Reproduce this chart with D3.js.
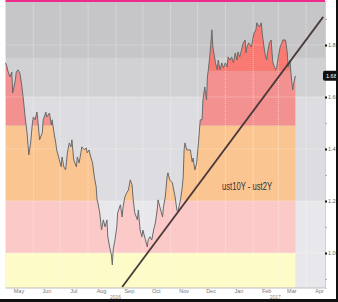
<!DOCTYPE html>
<html>
<head>
<meta charset="utf-8">
<script src="https://cdn.jsdelivr.net/npm/d3@7"></script>
<style>
  body { margin: 0; background: #fff; }
  svg { display: block; }
</style>
</head>
<body>
<svg id="chart" width="338" height="302"></svg>
<script>
// spread series
var dates = [
  "2016-05-01","2016-05-02","2016-05-04","2016-05-06","2016-05-08","2016-05-09","2016-05-12","2016-05-13",
  "2016-05-15","2016-05-17","2016-05-19","2016-05-21","2016-05-23","2016-05-25","2016-05-27","2016-05-29",
  "2016-05-31","2016-06-01","2016-06-03","2016-06-05","2016-06-06","2016-06-08","2016-06-11","2016-06-12",
  "2016-06-15","2016-06-16","2016-06-19","2016-06-21","2016-06-22","2016-06-24","2016-06-26","2016-06-27",
  "2016-06-30","2016-07-02","2016-07-03","2016-07-05","2016-07-07","2016-07-09","2016-07-11","2016-07-13",
  "2016-07-14","2016-07-16","2016-07-19","2016-07-20","2016-07-22","2016-07-24","2016-07-25","2016-07-28",
  "2016-07-30","2016-07-31","2016-08-02","2016-08-04","2016-08-06","2016-08-08","2016-08-10","2016-08-11",
  "2016-08-12","2016-08-14","2016-08-16","2016-08-18","2016-08-20","2016-08-22","2016-08-23","2016-08-25",
  "2016-08-27","2016-08-28","2016-08-29","2016-08-31","2016-09-02","2016-09-03","2016-09-06","2016-09-08",
  "2016-09-09","2016-09-11","2016-09-13","2016-09-15","2016-09-17","2016-09-19","2016-09-20","2016-09-22",
  "2016-09-25","2016-09-26","2016-09-28","2016-09-30","2016-10-01","2016-10-04","2016-10-06","2016-10-07",
  "2016-10-09","2016-10-11","2016-10-13","2016-10-15","2016-10-17","2016-10-18","2016-10-20","2016-10-23",
  "2016-10-24","2016-10-26","2016-10-28","2016-10-29","2016-10-31","2016-11-03","2016-11-04","2016-11-06",
  "2016-11-08","2016-11-09","2016-11-12","2016-11-14","2016-11-15","2016-11-16","2016-11-17","2016-11-19",
  "2016-11-23","2016-11-25","2016-11-26","2016-11-28","2016-11-30","2016-12-02","2016-12-04","2016-12-06",
  "2016-12-07","2016-12-09","2016-12-11","2016-12-12","2016-12-13","2016-12-15","2016-12-17","2016-12-18",
  "2016-12-21","2016-12-23","2016-12-24","2016-12-26","2016-12-28","2016-12-30","2017-01-01","2017-01-03",
  "2017-01-04","2017-01-06","2017-01-08","2017-01-10","2017-01-12","2017-01-14","2017-01-15","2017-01-17",
  "2017-01-19","2017-01-21","2017-01-23","2017-01-24","2017-01-25","2017-01-27","2017-01-30","2017-02-01",
  "2017-02-02","2017-02-04","2017-02-05","2017-02-08","2017-02-10","2017-02-11","2017-02-12","2017-02-14",
  "2017-02-16","2017-02-17","2017-02-19","2017-02-21","2017-02-22","2017-02-23","2017-02-26","2017-02-27",
  "2017-03-01","2017-03-03","2017-03-05","2017-03-06","2017-03-09","2017-03-11","2017-03-12","2017-03-14",
  "2017-03-15","2017-03-17","2017-03-18","2017-03-20"
];
var values = [
  1.731,1.723,1.696,1.677,1.696,1.615,1.665,1.696,
  1.704,1.692,1.646,1.588,1.519,1.462,1.377,1.423,
  1.500,1.523,1.512,1.542,1.512,1.435,1.462,1.512,
  1.542,1.523,1.538,1.492,1.512,1.462,1.423,1.396,
  1.358,1.331,1.369,1.331,1.319,1.385,1.423,1.408,
  1.435,1.358,1.331,1.369,1.346,1.385,1.408,1.396,
  1.404,1.385,1.396,1.369,1.346,1.292,1.254,1.204,
  1.192,1.154,1.088,1.127,1.100,1.127,1.062,1.023,
  0.992,0.954,1.012,1.050,1.100,1.154,1.185,1.138,
  1.177,1.215,1.231,1.242,1.281,1.262,1.215,1.154,
  1.127,1.165,1.088,1.062,1.088,1.050,1.023,1.050,
  1.062,1.050,1.088,1.115,1.165,1.204,1.177,1.138,
  1.177,1.215,1.292,1.308,1.281,1.269,1.250,1.215,
  1.165,1.158,1.204,1.254,1.292,1.396,1.423,1.396,
  1.396,1.350,1.365,1.319,1.346,1.423,1.512,1.512,
  1.588,1.638,1.588,1.677,1.704,1.769,1.858,1.792,
  1.731,1.704,1.742,1.704,1.731,1.712,1.731,1.715,
  1.754,1.742,1.754,1.731,1.769,1.742,1.773,1.754,
  1.781,1.808,1.819,1.769,1.792,1.808,1.792,1.831,
  1.846,1.858,1.885,1.869,1.885,1.846,1.819,1.769,
  1.742,1.769,1.808,1.819,1.769,1.731,1.704,1.712,
  1.754,1.792,1.808,1.819,1.819,1.769,1.715,1.742,
  1.692,1.627,1.650,1.681
];

var xDomain = ["2016-05-01", "2017-04-22"];
var yDomain = [0.865, 1.969];
var yTicks = [1.0, 1.2, 1.4, 1.6, 1.8];
var yMinorTicks = [0.9, 1.1, 1.3, 1.5, 1.7, 1.9];
var monthLabels = ["May","Jun","Jul","Aug","Sep","Oct","Nov","Dec","Jan","Feb","Mar","Apr"];
var yearLabels = ["2016", "2017"];
var yearStarts = ["2016-05-01", "2017-01-01"];

// colour bands under the line, lower bound of each band
var bandFrom = [0.0, 1.0, 1.2, 1.49, 1.70];
var bandColors = ["#fdfbc7", "#fcc9c9", "#fbc592", "#f39090", "#f87a72"];
// backdrop above the line
var backFrom = [0.0, 1.2, 1.6, 1.75];
var backColors = ["#e8e8ec", "#dddde1", "#d1d1d4", "#c6c6c8"];

var trendDates = ["2016-09-08", "2017-04-20"];
var trendValues = [0.869, 1.908];
var seriesLabel = "ust10Y - ust2Y";

var parse = d3.timeParse("%Y-%m-%d");
var svg = d3.select("#chart");
var plotL = 5.5, plotR = 325, plotT = 1, plotB = 288;
var font = "'Liberation Sans', Arial, sans-serif";

var data = dates.map(function(d, i) { return { date: parse(d), value: values[i] }; });

var x = d3.scaleTime().domain(xDomain.map(parse)).range([plotL, plotR]);
var y = d3.scaleLinear().domain(yDomain).range([plotB, plotT]);

function bandRects(g, from, colors) {
  g.selectAll("rect")
    .data(from)
    .enter()
    .append("rect")
    .attr("x", plotL)
    .attr("width", plotR - plotL)
    .attr("y", function(d, i) {
      return i === from.length - 1 ? plotT : y(from[i + 1]);
    })
    .attr("height", function(d, i) {
      var t = i === from.length - 1 ? plotT : y(from[i + 1]);
      return Math.min(plotB, y(Math.max(d, yDomain[0]))) - t;
    })
    .attr("fill", function(d, i) { return colors[i]; });
}

bandRects(svg.append("g"), backFrom, backColors);

var area = d3.area()
  .x(function(d) { return x(d.date); })
  .y0(plotB)
  .y1(function(d) { return y(d.value); });

svg.append("clipPath")
  .attr("id", "under")
  .append("path")
  .attr("d", area(data));

bandRects(svg.append("g").attr("clip-path", "url(#under)"), bandFrom, bandColors);

// grid
var months = d3.timeMonth.range(d3.timeMonth.offset(x.domain()[0], 1), x.domain()[1]);
svg.append("g")
  .selectAll("line")
  .data(months)
  .enter()
  .append("line")
  .attr("x1", function(d) { return x(d); })
  .attr("x2", function(d) { return x(d); })
  .attr("y1", plotT)
  .attr("y2", plotB + 5)
  .attr("stroke", "#ffffff")
  .attr("stroke-opacity", 0.5)
  .attr("stroke-dasharray", "1,1");
svg.append("g")
  .selectAll("line")
  .data(yTicks)
  .enter()
  .append("line")
  .attr("x1", plotL)
  .attr("x2", plotR)
  .attr("y1", function(d) { return y(d); })
  .attr("y2", function(d) { return y(d); })
  .attr("stroke", "#ffffff")
  .attr("stroke-opacity", 0.45)
  .attr("stroke-dasharray", "1,1");

// series line
svg.append("path")
  .datum(data)
  .attr("fill", "none")
  .attr("stroke", "#6a6a6a")
  .attr("stroke-width", 1)
  .attr("d", d3.line()
    .x(function(d) { return x(d.date); })
    .y(function(d) { return y(d.value); }));

// trend line
var trend = trendDates.map(function(d, i) { return { date: parse(d), value: trendValues[i] }; });
svg.append("path")
  .datum(trend)
  .attr("fill", "none")
  .attr("stroke", "#4b3a3a")
  .attr("stroke-width", 1.8)
  .attr("d", d3.line()
    .x(function(d) { return x(d.date); })
    .y(function(d) { return y(d.value); }));

svg.append("text")
  .attr("x", 222)
  .attr("y", 190)
  .attr("textLength", 50)
  .attr("lengthAdjust", "spacingAndGlyphs")
  .attr("font-family", font)
  .attr("font-size", 10)
  .attr("fill", "#333")
  .text(seriesLabel);

// top pink rule
svg.append("rect")
  .attr("x", plotL).attr("y", 0)
  .attr("width", plotR - plotL).attr("height", 2)
  .attr("fill", "#ee2a8a");

// bottom axis
svg.append("line")
  .attr("x1", plotL).attr("x2", plotR)
  .attr("y1", plotB).attr("y2", plotB)
  .attr("stroke", "#bdbdbd");
svg.append("g")
  .selectAll("text")
  .data(monthLabels)
  .enter()
  .append("text")
  .attr("x", function(d, i) {
    var m = d3.timeMonth.offset(x.domain()[0], i);
    return x(new Date(m.getFullYear(), m.getMonth(), 16));
  })
  .attr("y", 293)
  .attr("text-anchor", "middle")
  .attr("font-family", font)
  .attr("font-size", 5.5)
  .attr("fill", "#777")
  .text(function(d) { return d; });
svg.append("g")
  .selectAll("text")
  .data(yearLabels)
  .enter()
  .append("text")
  .attr("x", function(d, i) {
    var a = x(parse(yearStarts[i]));
    var b = i + 1 < yearStarts.length ? x(parse(yearStarts[i + 1])) : plotR;
    return (a + b) / 2;
  })
  .attr("y", 299)
  .attr("text-anchor", "middle")
  .attr("font-family", font)
  .attr("font-size", 5)
  .attr("fill", "#888")
  .text(function(d) { return d; });

// right axis
var yAxis = svg.append("g")
  .attr("transform", "translate(" + plotR + ",0)")
  .call(d3.axisRight(y).tickValues(yTicks).tickSize(2).tickPadding(1).tickFormat(d3.format(".4f")));
yAxis.select(".domain").attr("stroke", "#d0d0d0");
yAxis.selectAll(".tick line").attr("stroke", "#111").attr("stroke-width", 2);
yAxis.selectAll(".tick text")
  .attr("font-family", font)
  .attr("font-size", 5.5)
  .attr("fill", "#666");
var yMinor = svg.append("g")
  .attr("transform", "translate(" + plotR + ",0)")
  .call(d3.axisRight(y).tickValues(yMinorTicks).tickSize(2).tickFormat(""));
yMinor.select(".domain").remove();
yMinor.selectAll(".tick line").attr("stroke", "#aaa");

// last value tag
var last = data[data.length - 1];
svg.append("rect")
  .attr("x", plotR - 2)
  .attr("y", y(last.value) - 5)
  .attr("width", 16)
  .attr("height", 10)
  .attr("rx", 2)
  .attr("fill", "#111");
svg.append("text")
  .attr("x", plotR + 1)
  .attr("y", y(last.value) + 2)
  .attr("font-family", font)
  .attr("font-size", 5.5)
  .attr("fill", "#fff")
  .text(d3.format(".4f")(last.value));

// frame edges
svg.append("rect").attr("x", 336).attr("y", 0).attr("width", 2).attr("height", 302).attr("fill", "#111");
svg.append("rect").attr("x", 0).attr("y", 299).attr("width", 338).attr("height", 3).attr("fill", "#111");
</script>
</body>
</html>
